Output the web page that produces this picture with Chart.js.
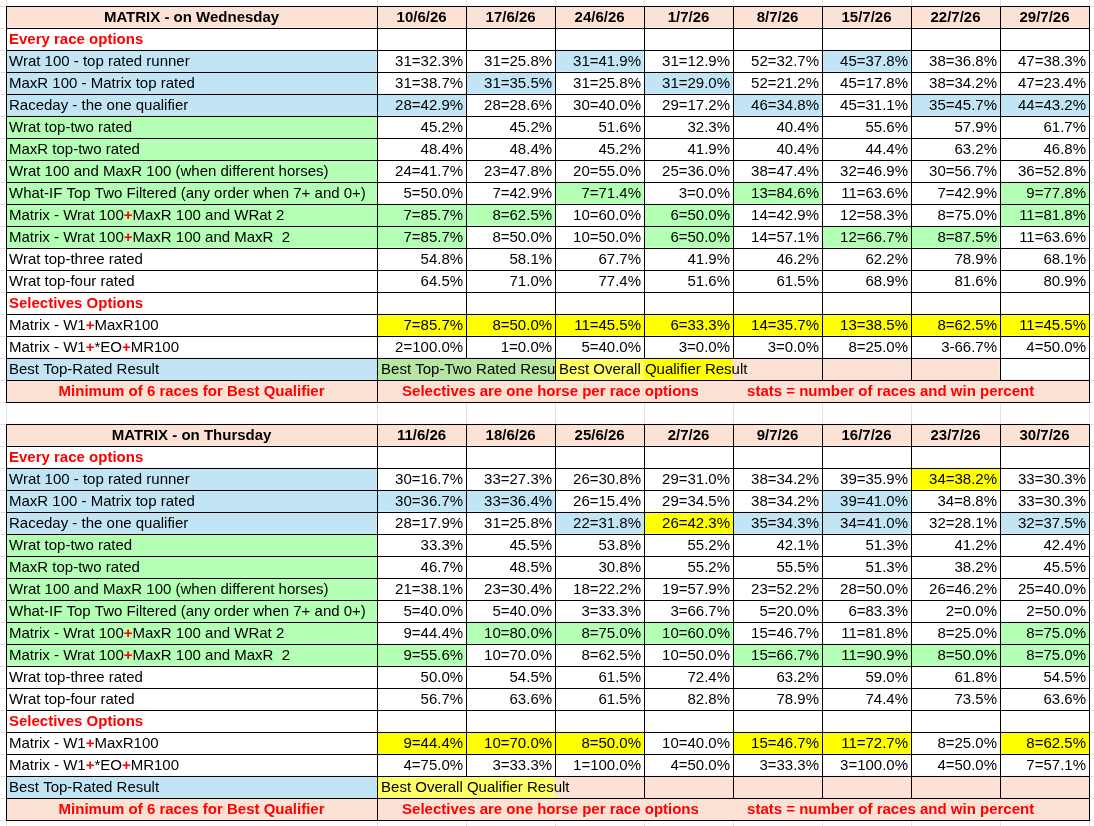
<!DOCTYPE html>
<html>
<head>
<meta charset="utf-8">
<title>Matrix results</title>
<script src="https://cdn.jsdelivr.net/npm/chart.js"></script>
<style>
  html, body { margin: 0; padding: 0; background: #fff; }
  canvas { display: block; }
</style>
</head>
<body>
<canvas id="matrixChart" width="1094" height="826"></canvas>
<script>
// ---- data ----
const wedTitle = 'MATRIX - on Wednesday';
const thuTitle = 'MATRIX - on Thursday';
const wedDates = ['10/6/26', '17/6/26', '24/6/26', '1/7/26', '8/7/26', '15/7/26', '22/7/26', '29/7/26'];
const thuDates = ['11/6/26', '18/6/26', '25/6/26', '2/7/26', '9/7/26', '16/7/26', '23/7/26', '30/7/26'];

// table rows 1..17 (row 0 is the title / date row)
const rowLabels = [
    'Every race options',
    'Wrat 100 - top rated runner',
    'MaxR 100 - Matrix top rated',
    'Raceday - the one qualifier',
    'Wrat top-two rated',
    'MaxR top-two rated',
    'Wrat 100 and MaxR 100 (when different horses)',
    'What-IF Top Two Filtered (any order when 7+ and 0+)',
    'Matrix - Wrat 100+MaxR 100 and WRat 2',
    'Matrix - Wrat 100+MaxR 100 and MaxR  2',
    'Wrat top-three rated',
    'Wrat top-four rated',
    'Selectives Options',
    'Matrix - W1+MaxR100',
    'Matrix - W1+*EO+MR100',
    'Best Top-Rated Result',
    'Minimum of 6 races for Best Qualifier'
];

// rows that hold results, in the same order as the value arrays below
const valueRows = [2, 3, 4, 5, 6, 7, 8, 9, 10, 11, 12, 14, 15];

const wedValues = [
    ['31=32.3%', '31=25.8%', '31=41.9%', '31=12.9%', '52=32.7%', '45=37.8%', '38=36.8%', '47=38.3%'],
    ['31=38.7%', '31=35.5%', '31=25.8%', '31=29.0%', '52=21.2%', '45=17.8%', '38=34.2%', '47=23.4%'],
    ['28=42.9%', '28=28.6%', '30=40.0%', '29=17.2%', '46=34.8%', '45=31.1%', '35=45.7%', '44=43.2%'],
    ['45.2%', '45.2%', '51.6%', '32.3%', '40.4%', '55.6%', '57.9%', '61.7%'],
    ['48.4%', '48.4%', '45.2%', '41.9%', '40.4%', '44.4%', '63.2%', '46.8%'],
    ['24=41.7%', '23=47.8%', '20=55.0%', '25=36.0%', '38=47.4%', '32=46.9%', '30=56.7%', '36=52.8%'],
    ['5=50.0%', '7=42.9%', '7=71.4%', '3=0.0%', '13=84.6%', '11=63.6%', '7=42.9%', '9=77.8%'],
    ['7=85.7%', '8=62.5%', '10=60.0%', '6=50.0%', '14=42.9%', '12=58.3%', '8=75.0%', '11=81.8%'],
    ['7=85.7%', '8=50.0%', '10=50.0%', '6=50.0%', '14=57.1%', '12=66.7%', '8=87.5%', '11=63.6%'],
    ['54.8%', '58.1%', '67.7%', '41.9%', '46.2%', '62.2%', '78.9%', '68.1%'],
    ['64.5%', '71.0%', '77.4%', '51.6%', '61.5%', '68.9%', '81.6%', '80.9%'],
    ['7=85.7%', '8=50.0%', '11=45.5%', '6=33.3%', '14=35.7%', '13=38.5%', '8=62.5%', '11=45.5%'],
    ['2=100.0%', '1=0.0%', '5=40.0%', '3=0.0%', '3=0.0%', '8=25.0%', '3-66.7%', '4=50.0%']
];

const thuValues = [
    ['30=16.7%', '33=27.3%', '26=30.8%', '29=31.0%', '38=34.2%', '39=35.9%', '34=38.2%', '33=30.3%'],
    ['30=36.7%', '33=36.4%', '26=15.4%', '29=34.5%', '38=34.2%', '39=41.0%', '34=8.8%', '33=30.3%'],
    ['28=17.9%', '31=25.8%', '22=31.8%', '26=42.3%', '35=34.3%', '34=41.0%', '32=28.1%', '32=37.5%'],
    ['33.3%', '45.5%', '53.8%', '55.2%', '42.1%', '51.3%', '41.2%', '42.4%'],
    ['46.7%', '48.5%', '30.8%', '55.2%', '55.5%', '51.3%', '38.2%', '45.5%'],
    ['21=38.1%', '23=30.4%', '18=22.2%', '19=57.9%', '23=52.2%', '28=50.0%', '26=46.2%', '25=40.0%'],
    ['5=40.0%', '5=40.0%', '3=33.3%', '3=66.7%', '5=20.0%', '6=83.3%', '2=0.0%', '2=50.0%'],
    ['9=44.4%', '10=80.0%', '8=75.0%', '10=60.0%', '15=46.7%', '11=81.8%', '8=25.0%', '8=75.0%'],
    ['9=55.6%', '10=70.0%', '8=62.5%', '10=50.0%', '15=66.7%', '11=90.9%', '8=50.0%', '8=75.0%'],
    ['50.0%', '54.5%', '61.5%', '72.4%', '63.2%', '59.0%', '61.8%', '54.5%'],
    ['56.7%', '63.6%', '61.5%', '82.8%', '78.9%', '74.4%', '73.5%', '63.6%'],
    ['9=44.4%', '10=70.0%', '8=50.0%', '10=40.0%', '15=46.7%', '11=72.7%', '8=25.0%', '8=62.5%'],
    ['4=75.0%', '3=33.3%', '1=100.0%', '4=50.0%', '3=33.3%', '3=100.0%', '4=50.0%', '7=57.1%']
];

const bestNotes = ['Best Top-Two Rated Result', 'Best Overall Qualifier Result'];
const footNotes = ['Selectives are one horse per race options', 'stats = number of races and win percent'];

// ---- styles ----
const palette = {
    p: '#FBE2D5',   // peach
    b: '#C1E5F5',   // blue
    g: '#B3FFB3',   // bright green
    s: '#B5E6A2',   // sage green
    y: '#FFFF00',   // yellow
    l: '#FFFF66'    // light yellow
};

// fill of the label column, table rows 0..17
const labelFill = ['p', '', 'b', 'b', 'b', 'g', 'g', 'g', 'g', 'g', 'g', '', '', '', '', '', 'b', 'p'];

// highlighted result cells: [row, column, colour]
const wedMarks = [
    [2, 2, 'b'], [2, 5, 'b'],
    [3, 1, 'b'], [3, 3, 'b'],
    [4, 0, 'b'], [4, 4, 'b'], [4, 6, 'b'], [4, 7, 'b'],
    [8, 2, 'g'], [8, 4, 'g'], [8, 7, 'g'],
    [9, 0, 'g'], [9, 1, 'g'], [9, 3, 'g'], [9, 7, 'g'],
    [10, 0, 'g'], [10, 3, 'g'], [10, 5, 'g'], [10, 6, 'g'],
    [14, 0, 'y'], [14, 1, 'y'], [14, 2, 'y'], [14, 3, 'y'], [14, 4, 'y'], [14, 5, 'y'], [14, 6, 'y'], [14, 7, 'y']
];
const thuMarks = [
    [2, 6, 'y'],
    [3, 0, 'b'], [3, 1, 'b'], [3, 5, 'b'],
    [4, 2, 'b'], [4, 3, 'y'], [4, 4, 'b'], [4, 5, 'b'], [4, 7, 'b'],
    [9, 1, 'g'], [9, 2, 'g'], [9, 3, 'g'], [9, 7, 'g'],
    [10, 0, 'g'], [10, 4, 'g'], [10, 5, 'g'], [10, 6, 'g'], [10, 7, 'g'],
    [14, 0, 'y'], [14, 1, 'y'], [14, 2, 'y'], [14, 4, 'y'], [14, 5, 'y'], [14, 7, 'y']
];

// "best" row: cell fills, column edges without a border, note placement
const wedBest = { fill: ['s', 's', 'l', 'y', 'p', 'p', 'p', ''], open: [1, 3, 4], notes: [[0, 0, 2], [1, 2, null]] };
const thuBest = { fill: ['l', 'l', 'p', 'p', 'p', 'p', 'p', 'p'], open: [1, 2], notes: [[1, 0, null]] };

const labelStart = -4.17;   // label column width, in date-column units
const FONT = '"Liberation Sans", Arial, sans-serif';

const rowKeys = [];
for (let r = 0; r < 18; r++) rowKeys.push('wed' + r);
rowKeys.push('gap');
for (let r = 0; r < 18; r++) rowKeys.push('thu' + r);

const tables = [
    { prefix: 'wed', title: wedTitle, dates: wedDates, values: wedValues, marks: wedMarks, best: wedBest },
    { prefix: 'thu', title: thuTitle, dates: thuDates, values: thuValues, marks: thuMarks, best: thuBest }
];

// one bar per cell
const cells = [];
tables.forEach(t => {
    for (let r = 0; r < 18; r++) {
        cells.push({ y: t.prefix + r, x: [labelStart, 0], code: labelFill[r] });
        for (let c = 0; c < 8; c++) {
            let code = '';
            if (r === 0 || r === 17) code = 'p';
            else if (r === 16) code = t.best.fill[c];
            const mark = t.marks.find(m => m[0] === r && m[1] === c);
            if (mark) code = mark[2];
            cells.push({ y: t.prefix + r, x: [c, c + 1], code: code });
        }
    }
});

// ---- drawing helpers ----
function geometry(chart) {
    const xs = chart.scales.x, ys = chart.scales.y;
    const step = ys.getPixelForValue(1) - ys.getPixelForValue(0);
    const edges = [labelStart, 0, 1, 2, 3, 4, 5, 6, 7, 8].map(v => xs.getPixelForValue(v));
    return { xs, ys, step, edges };
}

const crisp = v => Math.round(v) + 0.5;

function drawLabel(ctx, text, x, y) {
    // the Matrix rows show their plus signs in bold red
    const parts = text.startsWith('Matrix') ? text.split('+') : [text];
    let cx = x;
    parts.forEach((part, i) => {
        ctx.font = '15px ' + FONT;
        ctx.fillStyle = '#000';
        ctx.fillText(part, cx, y);
        cx += ctx.measureText(part).width;
        if (i < parts.length - 1) {
            ctx.font = 'bold 15px ' + FONT;
            ctx.fillStyle = '#FF0000';
            ctx.fillText('+', cx, y);
            cx += ctx.measureText('+').width;
        }
    });
}

function drawTable(chart, t) {
    const { ctx } = chart;
    const { ys, step, edges } = geometry(chart);
    const base = rowKeys.indexOf(t.prefix + '0');
    const top = r => ys.getPixelForValue(base + r) - step / 2;
    const mid = r => ys.getPixelForValue(base + r) + 1;

    // borders
    ctx.save();
    ctx.strokeStyle = '#000';
    ctx.lineWidth = 1;
    ctx.beginPath();
    for (let r = 0; r <= 18; r++) {
        const y = crisp(top(r));
        ctx.moveTo(crisp(edges[0]) - 0.5, y);
        ctx.lineTo(crisp(edges[9]) + 0.5, y);
    }
    for (let r = 0; r < 18; r++) {
        let open = [];
        if (r === 16) open = t.best.open;
        if (r === 17) open = [1, 2, 3, 4, 5, 6, 7];
        edges.forEach((ex, i) => {
            if (open.includes(i - 1)) return;
            ctx.moveTo(crisp(ex), crisp(top(r)));
            ctx.lineTo(crisp(ex), crisp(top(r + 1)));
        });
    }
    ctx.stroke();

    // header row
    ctx.textBaseline = 'middle';
    ctx.textAlign = 'center';
    ctx.fillStyle = '#000';
    ctx.font = 'bold 15px ' + FONT;
    ctx.fillText(t.title, (edges[0] + edges[1]) / 2, mid(0));
    t.dates.forEach((d, c) => ctx.fillText(d, (edges[c + 1] + edges[c + 2]) / 2, mid(0)));

    // label column
    rowLabels.forEach((label, i) => {
        const r = i + 1;
        if (r === 1 || r === 13) {
            ctx.textAlign = 'left';
            ctx.font = 'bold 15px ' + FONT;
            ctx.fillStyle = '#FF0000';
            ctx.fillText(label, edges[0] + 3, mid(r));
        } else if (r === 17) {
            ctx.textAlign = 'center';
            ctx.font = 'bold 15px ' + FONT;
            ctx.fillStyle = '#FF0000';
            ctx.fillText(label, (edges[0] + edges[1]) / 2, mid(r));
        } else {
            ctx.textAlign = 'left';
            drawLabel(ctx, label, edges[0] + 3, mid(r));
        }
    });

    // results
    ctx.textAlign = 'right';
    ctx.font = '15px ' + FONT;
    ctx.fillStyle = '#000';
    valueRows.forEach((r, i) => {
        t.values[i].forEach((v, c) => ctx.fillText(v, edges[c + 2] - 3, mid(r)));
    });

    // best row notes
    ctx.textAlign = 'left';
    t.best.notes.forEach(([note, col, clipCol]) => {
        ctx.save();
        if (clipCol !== null) {
            ctx.beginPath();
            ctx.rect(edges[col + 1], top(16), edges[clipCol + 1] - edges[col + 1], step);
            ctx.clip();
        }
        ctx.fillText(bestNotes[note], edges[col + 1] + 4, mid(16));
        ctx.restore();
    });

    // footer notes
    ctx.font = 'bold 15px ' + FONT;
    ctx.fillStyle = '#FF0000';
    ctx.fillText(footNotes[0], edges[1] + 25, mid(17));
    ctx.fillText(footNotes[1], edges[5] + 14, mid(17));
    ctx.restore();
}

const tablePlugin = {
    id: 'tablePlugin',
    beforeDatasetsDraw(chart) {
        // light spreadsheet gridlines behind everything
        const { ctx, width, height } = chart;
        const { ys, step, edges } = geometry(chart);
        ctx.save();
        ctx.strokeStyle = '#E1E1E1';
        ctx.lineWidth = 1;
        ctx.beginPath();
        for (let i = 0; i <= rowKeys.length; i++) {
            const y = crisp(ys.getPixelForValue(i) - step / 2);
            ctx.moveTo(0, y);
            ctx.lineTo(width, y);
        }
        edges.forEach(ex => {
            ctx.moveTo(crisp(ex), 0);
            ctx.lineTo(crisp(ex), height);
        });
        ctx.stroke();
        ctx.restore();
    },
    afterDatasetsDraw(chart) {
        tables.forEach(t => drawTable(chart, t));
    }
};

document.addEventListener('DOMContentLoaded', () => {
    const ctx = document.getElementById('matrixChart');
    new Chart(ctx, {
        type: 'bar',
        data: {
            datasets: [{
                data: cells,
                backgroundColor: cells.map(c => palette[c.code] || '#FFFFFF'),
                borderWidth: 0,
                borderSkipped: false,
                barPercentage: 1,
                categoryPercentage: 1,
                grouped: false
            }]
        },
        options: {
            indexAxis: 'y',
            responsive: false,
            animation: false,
            devicePixelRatio: 1,
            layout: { padding: { left: 6, right: 5, top: 6, bottom: 6 } },
            scales: {
                x: { type: 'linear', min: labelStart, max: 8, display: false },
                y: { type: 'category', labels: rowKeys, offset: true, display: false }
            },
            plugins: {
                legend: { display: false },
                tooltip: { enabled: false }
            }
        },
        plugins: [tablePlugin]
    });
});
</script>
</body>
</html>
